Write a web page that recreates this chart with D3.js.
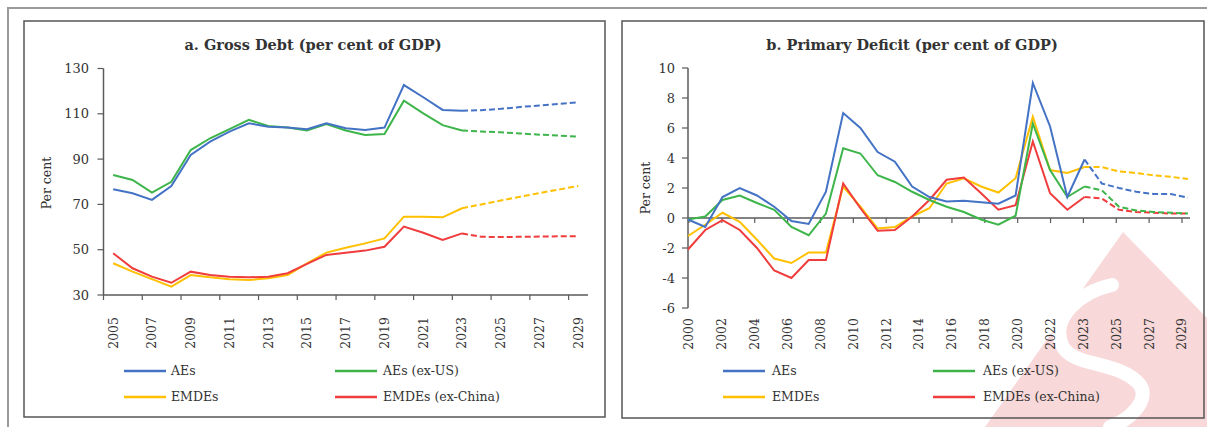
<!DOCTYPE html>
<html><head><meta charset="utf-8">
<script src="https://cdn.jsdelivr.net/npm/d3@7"></script>
<style>
html,body{margin:0;padding:0;background:#fff;}
svg{display:block;}
text{font-family:"DejaVu Serif",serif;fill:#333;}
</style></head>
<body>
<svg id="chart" width="1207" height="427"></svg>
<script>
// ---------- Panel a: Gross Debt ----------
const yearsA = [2005,2006,2007,2008,2009,2010,2011,2012,2013,2014,2015,2016,2017,2018,2019,2020,2021,2022,2023,2024,2025,2026,2027,2028,2029];
const debtAEs      = [76.7,74.9,72.0,78.1,91.8,97.7,102.1,105.8,104.3,103.9,103.2,105.8,103.6,102.9,103.9,122.7,117.3,111.7,111.4,111.6,112.2,113.0,113.7,114.4,115.1];
const debtAEsExUS  = [83.0,80.8,75.2,80.0,94.0,99.2,103.2,107.3,104.6,103.9,102.6,105.5,102.6,100.6,101.1,115.8,110.2,105.0,102.6,102.2,101.8,101.3,100.8,100.4,99.9];
const debtEMDEs    = [44.0,40.3,37.0,33.7,38.8,37.8,37.0,36.6,37.4,38.8,44.0,48.7,50.9,52.8,55.0,64.6,64.6,64.3,68.3,70.0,71.7,73.4,75.0,76.6,78.1];
const debtEMDEsExC = [48.4,41.8,38.1,35.4,40.3,38.8,38.1,37.8,38.1,39.6,43.7,47.7,48.7,49.6,51.3,60.2,57.5,54.3,57.2,55.7,55.6,55.7,55.8,55.9,55.9];
const yTicksA = [30,50,70,90,110,130];
const lastActualA = 2023;

// ---------- Panel b: Primary Deficit ----------
const yearsB = [2000,2001,2002,2003,2004,2005,2006,2007,2008,2009,2010,2011,2012,2013,2014,2015,2016,2017,2018,2019,2020,2021,2022,2023,2024,2025,2026,2027,2028,2029];
const defAEs      = [-0.1,-0.6,1.4,2.0,1.5,0.75,-0.2,-0.4,1.75,7.0,6.0,4.4,3.75,2.1,1.4,1.1,1.15,1.05,0.95,1.5,9.0,6.1,1.4,3.9,2.3,2.0,1.75,1.6,1.6,1.35];
const defAEsExUS  = [-0.1,0.1,1.2,1.5,1.0,0.55,-0.6,-1.15,0.3,4.65,4.3,2.85,2.4,1.75,1.2,0.75,0.4,-0.1,-0.45,0.15,6.3,3.2,1.4,2.1,1.85,0.75,0.5,0.4,0.35,0.3];
const defEMDEs    = [-1.2,-0.45,0.35,-0.25,-1.45,-2.7,-3.0,-2.3,-2.3,2.1,0.75,-0.7,-0.6,0.1,0.65,2.3,2.65,2.1,1.7,2.65,6.75,3.2,3.0,3.4,3.4,3.1,3.0,2.85,2.75,2.6];
const defEMDEsExC = [-2.1,-0.8,-0.15,-0.8,-2.0,-3.5,-4.0,-2.8,-2.8,2.3,0.65,-0.85,-0.8,0.1,1.2,2.55,2.7,1.65,0.55,0.85,5.1,1.65,0.55,1.4,1.3,0.55,0.4,0.35,0.3,0.3];
const yTicksB = [-6,-4,-2,0,2,4,6,8,10];
const tickLabelsB = ["2000","2002","2004","2006","2008","2010","2012","2014","2016","2018","2020","2022","2023","2025","2027","2029"];
const lastActualB = 2023;

const seriesNames = ["AEs","AEs (ex-US)","EMDEs","EMDEs (ex-China)"];
const seriesColors = ["#4472c4","#3db54a","#ffc000","#f03c3c"];

const svg = d3.select("#chart");
const axisColor = "#5a5a5a";

// outer frame
svg.append("path").attr("d","M8,427 L8,8 L1207,8").attr("fill","none").attr("stroke","#9a9a9a").attr("stroke-width",2);

// watermark (decorative)
const wm = svg.append("g").attr("opacity",0.5);
wm.append("path").attr("d","M1123,232 L1207,318 L1207,427 L985,427 Z").attr("fill","#f2b3b3");
wm.append("path").attr("d","M1112,285 C1080,292 1050,318 1062,345 C1072,368 1120,360 1140,385 C1150,400 1130,420 1110,427")
  .attr("fill","none").attr("stroke","#fff").attr("stroke-width",14).attr("stroke-linecap","round");

function panel(opts){
  const g = svg.append("g");
  g.append("rect").attr("x",opts.box[0]).attr("y",opts.box[1]).attr("width",opts.box[2]-opts.box[0]).attr("height",opts.box[3]-opts.box[1])
    .attr("fill","none").attr("stroke","#555").attr("stroke-width",1.5);
  g.append("text").attr("x",opts.titleX).attr("y",50).attr("text-anchor","middle")
    .attr("font-weight","bold").attr("font-size",opts.titleSize).text(opts.title);
  g.append("text").attr("transform",`translate(${opts.yTitleX},${opts.yTitleY}) rotate(-90)`)
    .attr("text-anchor","middle").attr("dy","0.35em").attr("font-size",12.5).text("Per cent");
  return g;
}

function legend(g,pos){
  seriesNames.forEach((n,i)=>{
    const [lx,tx,ly] = pos[i];
    g.append("line").attr("x1",lx).attr("x2",lx+42).attr("y1",ly).attr("y2",ly).attr("stroke",seriesColors[i]).attr("stroke-width",2.5);
    g.append("text").attr("x",tx).attr("y",ly).attr("dy","0.35em").attr("font-size",12.5).text(n);
  });
}

// ---------- Panel a drawing ----------
{
  const g = panel({box:[24,21,605,417], title:"a. Gross Debt (per cent of GDP)", titleX:313, titleSize:14.5, yTitleX:47, yTitleY:183});
  const x = d3.scaleBand().domain(yearsA).range([103.5,588]);
  const xc = d => x(d) + x.bandwidth()/2;
  const y = d3.scaleLinear().domain([30,130]).range([295,68.5]);
  g.append("line").attr("x1",103.5).attr("x2",103.5).attr("y1",y(130)).attr("y2",y(30)).attr("stroke",axisColor).attr("stroke-width",1.5);
  g.append("line").attr("x1",103.5).attr("x2",588).attr("y1",y(30)).attr("y2",y(30)).attr("stroke",axisColor).attr("stroke-width",1.5);
  yTicksA.forEach(t=>{
    g.append("line").attr("x1",97.5).attr("x2",103.5).attr("y1",y(t)).attr("y2",y(t)).attr("stroke",axisColor).attr("stroke-width",1.2);
    g.append("text").attr("x",89).attr("y",y(t)).attr("dy","0.35em").attr("text-anchor","end").attr("font-size",13).text(t);
  });
  yearsA.forEach((yr,i)=>{
    if(i%2!==0) return;
    g.append("line").attr("x1",x(yr)).attr("x2",x(yr)).attr("y1",y(30)).attr("y2",y(30)+5).attr("stroke",axisColor).attr("stroke-width",1.2);
    g.append("text").attr("transform",`translate(${xc(yr)},317) rotate(-90)`).attr("text-anchor","end").attr("dy","0.35em")
      .attr("font-size",12.5).text(yr);
  });
  const sets = [debtAEs,debtAEsExUS,debtEMDEs,debtEMDEsExC];
  const line = d3.line().x(d=>xc(d[0])).y(d=>y(d[1]));
  [2,3,1,0].forEach(k=>{
    const pts = yearsA.map((yr,i)=>[yr,sets[k][i]]);
    g.append("path").attr("d",line(pts.filter(p=>p[0]<=lastActualA))).attr("fill","none").attr("stroke",seriesColors[k]).attr("stroke-width",2);
    g.append("path").attr("d",line(pts.filter(p=>p[0]>=lastActualA))).attr("fill","none").attr("stroke",seriesColors[k]).attr("stroke-width",2).attr("stroke-dasharray","6,3");
  });
  legend(g,[[124,171,371],[335,383,371],[124,171,397],[335,383,397]]);
}

// ---------- Panel b drawing ----------
{
  const g = panel({box:[622,21,1204,418], title:"b. Primary Deficit (per cent of GDP)", titleX:912, titleSize:14.5, yTitleX:646, yTitleY:188});
  const x = d3.scalePoint().domain(yearsB).range([688,1188]);
  const xt = d3.scalePoint().domain(tickLabelsB).range([689,1182]);
  const y = d3.scaleLinear().domain([-6,10]).range([308,68]);
  g.append("line").attr("x1",688).attr("x2",688).attr("y1",y(10)).attr("y2",y(-6)).attr("stroke",axisColor).attr("stroke-width",1.5);
  g.append("line").attr("x1",688).attr("x2",1190).attr("y1",y(0)).attr("y2",y(0)).attr("stroke",axisColor).attr("stroke-width",1.5);
  yTicksB.forEach(t=>{
    g.append("line").attr("x1",682).attr("x2",688).attr("y1",y(t)).attr("y2",y(t)).attr("stroke",axisColor).attr("stroke-width",1.2);
    g.append("text").attr("x",675).attr("y",y(t)).attr("dy","0.35em").attr("text-anchor","end").attr("font-size",13).text(t);
  });
  tickLabelsB.forEach(l=>{
    g.append("line").attr("x1",xt(l)).attr("x2",xt(l)).attr("y1",y(0)).attr("y2",y(0)+5).attr("stroke",axisColor).attr("stroke-width",1.2);
    g.append("text").attr("transform",`translate(${xt(l)},318) rotate(-90)`).attr("text-anchor","end").attr("dy","0.35em")
      .attr("font-size",12.5).text(l);
  });
  const sets = [defAEs,defAEsExUS,defEMDEs,defEMDEsExC];
  const line = d3.line().x(d=>x(d[0])).y(d=>y(d[1]));
  [2,3,1,0].forEach(k=>{
    const pts = yearsB.map((yr,i)=>[yr,sets[k][i]]);
    g.append("path").attr("d",line(pts.filter(p=>p[0]<=lastActualB))).attr("fill","none").attr("stroke",seriesColors[k]).attr("stroke-width",2);
    g.append("path").attr("d",line(pts.filter(p=>p[0]>=lastActualB))).attr("fill","none").attr("stroke",seriesColors[k]).attr("stroke-width",2).attr("stroke-dasharray","6,3");
  });
  legend(g,[[723,772,371],[933,983,371],[723,772,397],[933,983,397]]);
}
</script>
</body></html>
